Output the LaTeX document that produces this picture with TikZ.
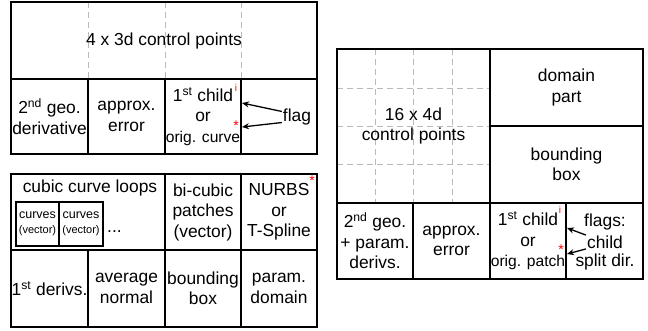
\documentclass[tikz,border=0pt]{standalone}
\usepackage{fontspec}
\setmainfont{Liberation Sans}
\usetikzlibrary{arrows.meta}

\begin{document}
\begin{tikzpicture}[x=1pt,y=-1pt,
    cell/.style={draw, line width=1.2pt, inner sep=0pt, outer sep=0pt, align=center, font=\fontsize{17.4}{20.5}\selectfont},
    smallcell/.style={cell, font=\fontsize{12.5}{14.5}\selectfont},
    txt/.style={inner sep=1pt, align=center, font=\fontsize{17.4}{20.5}\selectfont},
    redmark/.style={inner sep=0pt, text=red, font=\fontsize{10}{10}\selectfont},
    redstar/.style={inner sep=0pt, text=red, font=\fontsize{14}{14}\selectfont},
    gridline/.style={gray!55, line width=1pt, dash pattern=on 6pt off 4pt},
    flagarrow/.style={line width=1.3pt, -{Stealth[length=7pt,width=6pt]}}]
    \useasboundingbox (0,0) rectangle (648,330);

    % curve record
    \foreach \x in {88,165,241}
        \draw[gridline] (\x,2) -- (\x,79);
    \node[cell, minimum width=306, minimum height=77] (ctrl) at (164,40.5) {4 x 3d control points};
    \node[cell, minimum width=77, minimum height=75] (geo) at (49.5,116.5) {2\textsuperscript{nd} geo.\\derivative};
    \node[cell, minimum width=77, minimum height=75] (err) at (126.5,116.5) {approx.\\error};
    \node[cell, minimum width=76, minimum height=75] (child) at (203,116.5) {1\textsuperscript{st} child\\or\\{\fontsize{15.6}{18}\selectfont orig. curve}};
    \node[cell, minimum width=76, minimum height=75] (flagcell) at (279,116.5) {};
    \node[txt] (flag) at (297,117) {flag};
    \node[redmark] (childi) at (236,88) {i};
    \node[redstar] (childstar) at (236,126) {*};
    \coordinate (flagA) at (242,103);
    \coordinate (flagB) at (242,127);
    \draw[flagarrow] (flag.160) -- (flagA);
    \draw[flagarrow] (flag.200) -- (flagB);

    % object record
    \node[cell, minimum width=154, minimum height=76] (loops) at (88,212) {};
    \node[txt] (loopstxt) at (90,188) {cubic curve loops};
    \node[smallcell, minimum width=43, minimum height=44] (curvesA) at (37.5,224) {curves\\{\fontsize{11}{13}\selectfont(vector)}};
    \node[smallcell, minimum width=44, minimum height=44] (curvesB) at (81,224) {curves\\{\fontsize{11}{13}\selectfont(vector)}};
    \node[txt, anchor=base] (dots) at (114.5,232) {...};
    \node[cell, minimum width=76, minimum height=76] (patches) at (203,212) {bi-cubic\\patches\\(vector)};
    \node[cell, minimum width=76, minimum height=76] (nurbs) at (279,212) {NURBS\\or\\T-Spline};
    \node[redstar] (nurbsstar) at (312,181) {*};
    \node[cell, minimum width=77, minimum height=77] (derivs) at (49.5,288.5) {1\textsuperscript{st} derivs.};
    \node[cell, minimum width=77, minimum height=77] (normal) at (126.5,288.5) {average\\normal};
    \node[cell, minimum width=76, minimum height=77] (bbox) at (203,288.5) {bounding\\box};
    \node[cell, minimum width=76, minimum height=77] (domain) at (279,288.5) {param.\\domain};

    % patch record
    \foreach \x in {375,413,452}
        \draw[gridline] (\x,49) -- (\x,203);
    \foreach \y in {88,126,164}
        \draw[gridline] (337,\y) -- (490,\y);
    \node[cell, minimum width=153, minimum height=154] (pts) at (413.5,126) {16 x 4d\\control points};
    \node[cell, minimum width=153, minimum height=77] (dompart) at (566.5,87.5) {domain\\part};
    \node[cell, minimum width=153, minimum height=77] (rbox) at (566.5,164.5) {bounding\\box};
    \node[cell, minimum width=76, minimum height=76] (rgeo) at (375,241) {2\textsuperscript{nd} geo.\\+ param.\\derivs.};
    \node[cell, minimum width=77, minimum height=76] (rerr) at (451.5,241) {approx.\\error};
    \node[cell, minimum width=76, minimum height=76] (rchild) at (528,241) {1\textsuperscript{st} child\\or\\{\fontsize{15.6}{18}\selectfont orig. patch}};
    \node[cell, minimum width=77, minimum height=76] (rflags) at (604.5,241) {};
    \node[txt] (flagsA) at (605,222) {flags:};
    \node[txt] (flagsB) at (605,242) {child};
    \node[txt] (flagsC) at (605,262) {split dir.};
    \node[redmark] (rchildi) at (560,210) {i};
    \node[redstar] (rchildstar) at (561,250) {*};
    \coordinate (rflagA) at (567,228);
    \coordinate (rflagB) at (567,254);
    \draw[flagarrow] (flagsB.160) -- (rflagA);
    \draw[flagarrow] (flagsB.200) -- (rflagB);
\end{tikzpicture}
\end{document}
